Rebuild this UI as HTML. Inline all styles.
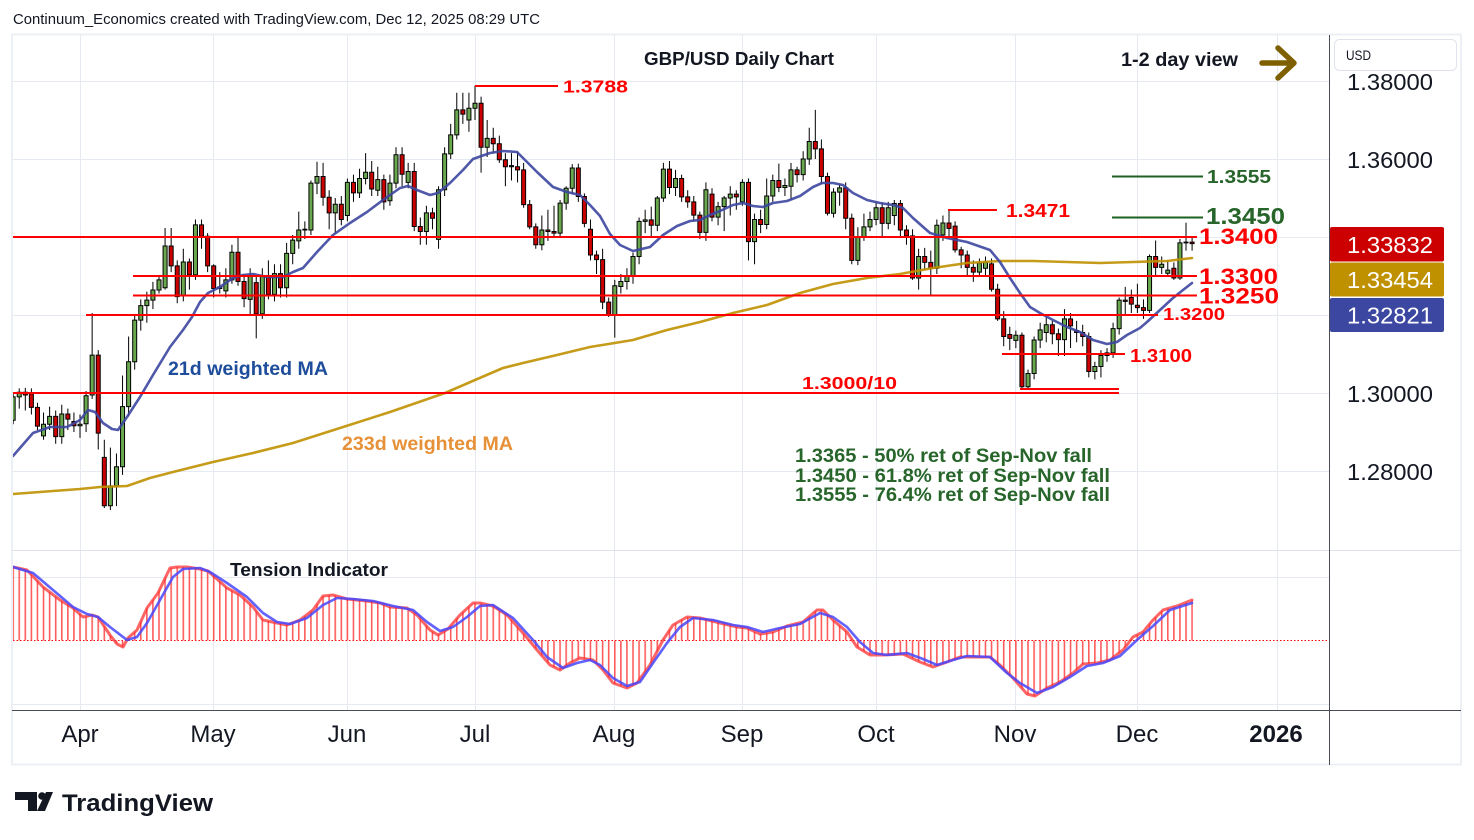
<!DOCTYPE html>
<html><head><meta charset="utf-8">
<style>
html,body{margin:0;padding:0;background:#fff;width:1474px;height:840px;overflow:hidden}
svg{display:block}
text{font-family:"Liberation Sans",Arial,sans-serif}
.b{font-weight:bold}
</style></head>
<body>
<svg width="1474" height="840" viewBox="0 0 1474 840" xmlns="http://www.w3.org/2000/svg">
<defs>
<clipPath id="mp"><rect x="13" y="35" width="1316" height="514"/></clipPath>
<clipPath id="ip"><rect x="13" y="551" width="1316" height="158"/></clipPath>
<pattern id="hp" patternUnits="userSpaceOnUse" x="79.2" y="0" width="6.077" height="840">
<rect x="0" y="0" width="1.6" height="840" fill="#ff4040"/>
</pattern>
</defs>
<rect width="1474" height="840" fill="#fff"/>

<!-- header -->
<text x="13" y="24" font-size="14.5" fill="#131722" textLength="527" lengthAdjust="spacingAndGlyphs">Continuum_Economics created with TradingView.com, Dec 12, 2025 08:29 UTC</text>

<!-- frame -->
<rect x="12" y="34.5" width="1449" height="730" fill="none" stroke="#eceff3" stroke-width="2"/>

<!-- grid -->
<g stroke="#e5e9f0" stroke-width="1">
<line x1="13" y1="81.5" x2="1329" y2="81.5"/>
<line x1="13" y1="159.5" x2="1329" y2="159.5"/>
<line x1="13" y1="237.5" x2="1329" y2="237.5"/>
<line x1="13" y1="315.5" x2="1329" y2="315.5"/>
<line x1="13" y1="393.5" x2="1329" y2="393.5"/>
<line x1="13" y1="471.5" x2="1329" y2="471.5"/>
<line x1="13" y1="577.5" x2="1329" y2="577.5"/>
<line x1="13" y1="704.5" x2="1329" y2="704.5"/>
<line x1="80.5" y1="35" x2="80.5" y2="710"/>
<line x1="213.5" y1="35" x2="213.5" y2="710"/>
<line x1="347.5" y1="35" x2="347.5" y2="710"/>
<line x1="475.5" y1="35" x2="475.5" y2="710"/>
<line x1="614.5" y1="35" x2="614.5" y2="710"/>
<line x1="742.5" y1="35" x2="742.5" y2="710"/>
<line x1="876.5" y1="35" x2="876.5" y2="710"/>
<line x1="1015.5" y1="35" x2="1015.5" y2="710"/>
<line x1="1137.5" y1="35" x2="1137.5" y2="710"/>
<line x1="1277.5" y1="35" x2="1277.5" y2="710"/>
</g>

<!-- pane separator, axes -->
<line x1="12" y1="550.5" x2="1461" y2="550.5" stroke="#dfe2e8" stroke-width="1"/>
<line x1="12" y1="710.5" x2="1461" y2="710.5" stroke="#4a4d57" stroke-width="1"/>
<line x1="1329.5" y1="35" x2="1329.5" y2="765" stroke="#4a4d57" stroke-width="1"/>

<!-- candles (bar index, price*1e4-10000) -->
<g clip-path="url(#mp)">
<g transform="matrix(6.077 0 0 -0.39 80 1563)">
<path fill="none" stroke="#000" stroke-width="1" vector-effect="non-scaling-stroke" d="M-11 2920V3000M-10 2960V3012M-9 2955V3013M-8 2945V3012M-7 2905V2975M-6 2880V2950M-5 2905V2965M-4 2870V2955M-3 2870V2970M-2 2905V2960M-1 2900V2950M0 2885V2945M1 2900V3005M2 2985V3205M3 2855V3110M4 2705V2880M5 2700V2860M6 2710V2845M7 2790V3045M8 2940V3145M9 3060V3200M10 3160V3240M11 3180V3260M12 3215V3285M13 3255V3300M14 3265V3423M15 3310V3423M16 3230V3340M17 3235V3370M18 3265V3345M19 3290V3445M20 3370V3445M21 3310V3410M22 3245V3330M23 3255V3310M24 3245V3320M25 3280V3380M26 3275V3402M27 3220V3305M28 3200V3320M29 3140V3300M30 3190V3320M31 3240V3340M32 3235V3330M33 3245V3330M34 3245V3385M35 3330V3405M36 3370V3465M37 3395V3440M38 3405V3545M39 3510V3593M40 3480V3590M41 3420V3520M42 3410V3500M43 3430V3505M44 3440V3550M45 3490V3560M46 3500V3575M47 3535V3615M48 3505V3595M49 3505V3580M50 3470V3560M51 3480V3560M52 3525V3630M53 3530V3630M54 3525V3590M55 3415V3590M56 3380V3450M57 3380V3480M58 3420V3475M59 3370V3530M60 3505V3630M61 3600V3690M62 3650V3770M63 3690V3770M64 3670V3770M65 3700V3788M66 3565V3760M67 3605V3700M68 3615V3680M69 3590V3660M70 3530V3615M71 3545V3615M72 3540V3620M73 3475V3590M74 3420V3495M75 3370V3435M76 3366V3455M77 3390V3470M78 3400V3480M79 3400V3495M80 3470V3530M81 3510V3587M82 3490V3588M83 3425V3512M84 3340V3445M85 3305V3365M86 3215V3370M87 3195V3245M88 3142V3290M89 3255V3305M90 3265V3320M91 3280V3360M92 3330V3450M93 3410V3470M94 3400V3478M95 3415V3505M96 3490V3590M97 3510V3595M98 3505V3572M99 3490V3560M100 3475V3520M101 3440V3505M102 3395V3465M103 3390V3540M104 3440V3525M105 3430V3490M106 3415V3505M107 3455V3530M108 3470V3520M109 3480V3548M110 3340V3550M111 3330V3460M112 3410V3470M113 3420V3550M114 3490V3560M115 3515V3588M116 3505V3550M117 3495V3590M118 3540V3580M119 3545V3620M120 3585V3680M121 3600V3726M122 3535V3650M123 3455V3565M124 3450V3525M125 3480V3535M126 3420V3540M127 3330V3460M128 3328V3425M129 3390V3460M130 3415V3465M131 3430V3488M132 3400V3488M133 3420V3490M134 3430V3495M135 3400V3495M136 3380V3430M137 3290V3420M138 3265V3370M139 3315V3372M140 3250V3365M141 3305V3445M142 3390V3455M143 3395V3471M144 3360V3440M145 3320V3375M146 3300V3365M147 3285V3340M148 3300V3345M149 3300V3350M150 3260V3345M151 3185V3280M152 3120V3210M153 3110V3170M154 3115V3160M155 3010V3155M156 3008V3060M157 3035V3145M158 3115V3180M159 3130V3195M160 3125V3185M161 3095V3165M162 3095V3215M163 3115V3205M164 3130V3185M165 3120V3175M166 3040V3155M167 3035V3080M168 3040V3110M169 3080V3115M170 3090V3180M171 3150V3245M172 3200V3272M173 3205V3265M174 3205V3280M175 3190V3240M176 3205V3355M177 3300V3391M178 3305V3350M179 3300V3340M180 3290V3335M181 3290V3395M182 3365V3437M183 3365V3400"/>
<path fill="#6aa84f" stroke="#000" stroke-width="1" vector-effect="non-scaling-stroke" d="M-11.33 2930h.66V2990h-.66zM-10.33 2990h.66V3002h-.66zM-6.33 2890h.66V2920h-.66zM-5.33 2920h.66V2940h-.66zM-3.33 2888h.66V2946h-.66zM-.33 2916h.66V2920h-.66zM.67 2921h.66V2993h-.66zM1.67 2995h.66V3097h-.66zM4.67 2711h.66V2762h-.66zM5.67 2762h.66V2811h-.66zM6.67 2811h.66V2965h-.66zM7.67 2965h.66V3080h-.66zM8.67 3080h.66V3187h-.66zM9.67 3187h.66V3224h-.66zM10.67 3224h.66V3238h-.66zM11.67 3238h.66V3264h-.66zM12.67 3264h.66V3290h-.66zM13.67 3270h.66V3377h-.66zM16.67 3251h.66V3336h-.66zM18.67 3303h.66V3431h-.66zM22.67 3268h.66V3272h-.66zM23.67 3262h.66V3290h-.66zM24.67 3290h.66V3361h-.66zM27.67 3240h.66V3300h-.66zM29.67 3203h.66V3300h-.66zM31.67 3253h.66V3306h-.66zM33.67 3270h.66V3358h-.66zM34.67 3358h.66V3392h-.66zM35.67 3390h.66V3418h-.66zM36.67 3418h.66V3420h-.66zM37.67 3418h.66V3538h-.66zM38.67 3538h.66V3555h-.66zM41.67 3462h.66V3484h-.66zM43.67 3455h.66V3540h-.66zM45.67 3513h.66V3550h-.66zM46.67 3550h.66V3566h-.66zM48.67 3520h.66V3547h-.66zM50.67 3493h.66V3538h-.66zM51.67 3538h.66V3611h-.66zM53.67 3540h.66V3568h-.66zM56.67 3414h.66V3462h-.66zM58.67 3394h.66V3521h-.66zM59.67 3521h.66V3613h-.66zM60.67 3613h.66V3662h-.66zM61.67 3662h.66V3726h-.66zM63.67 3700h.66V3730h-.66zM64.67 3730h.66V3743h-.66zM66.67 3630h.66V3653h-.66zM70.67 3580h.66V3583h-.66zM75.67 3380h.66V3418h-.66zM78.67 3410h.66V3487h-.66zM79.67 3487h.66V3525h-.66zM80.67 3525h.66V3577h-.66zM87.67 3200h.66V3275h-.66zM88.67 3273h.66V3286h-.66zM89.67 3286h.66V3299h-.66zM90.67 3299h.66V3350h-.66zM91.67 3350h.66V3440h-.66zM92.67 3440h.66V3444h-.66zM94.67 3430h.66V3500h-.66zM95.67 3500h.66V3574h-.66zM97.67 3527h.66V3550h-.66zM102.67 3412h.66V3521h-.66zM104.67 3451h.66V3478h-.66zM105.67 3478h.66V3500h-.66zM106.67 3500h.66V3510h-.66zM108.67 3490h.66V3540h-.66zM110.67 3388h.66V3445h-.66zM112.67 3432h.66V3505h-.66zM113.67 3505h.66V3545h-.66zM115.67 3527h.66V3532h-.66zM116.67 3530h.66V3572h-.66zM118.67 3560h.66V3600h-.66zM119.67 3600h.66V3645h-.66zM123.67 3461h.66V3515h-.66zM124.67 3515h.66V3526h-.66zM127.67 3340h.66V3400h-.66zM128.67 3400h.66V3426h-.66zM129.67 3426h.66V3445h-.66zM130.67 3445h.66V3475h-.66zM132.67 3435h.66V3475h-.66zM133.67 3455h.66V3486h-.66zM137.67 3295h.66V3350h-.66zM140.67 3320h.66V3430h-.66zM141.67 3405h.66V3436h-.66zM147.67 3310h.66V3333h-.66zM148.67 3320h.66V3335h-.66zM153.67 3135h.66V3148h-.66zM155.67 3016h.66V3050h-.66zM156.67 3050h.66V3136h-.66zM157.67 3136h.66V3162h-.66zM158.67 3155h.66V3175h-.66zM161.67 3137h.66V3190h-.66zM166.67 3055h.66V3068h-.66zM167.67 3068h.66V3096h-.66zM168.67 3096h.66V3103h-.66zM169.67 3103h.66V3165h-.66zM170.67 3165h.66V3238h-.66zM175.67 3212h.66V3350h-.66zM177.67 3322h.66V3330h-.66zM178.67 3307h.66V3315h-.66zM180.67 3295h.66V3385h-.66zM181.67 3385h.66V3387h-.66z"/>
<path fill="#cc0000" stroke="#000" stroke-width="1" vector-effect="non-scaling-stroke" d="M-9.33 3002h.66V2995h-.66zM-8.33 2998h.66V2963h-.66zM-7.33 2963h.66V2915h-.66zM-4.33 2940h.66V2888h-.66zM-2.33 2946h.66V2933h-.66zM-1.33 2927h.66V2916h-.66zM2.67 3097h.66V2897h-.66zM3.67 2835h.66V2711h-.66zM14.67 3377h.66V3326h-.66zM15.67 3326h.66V3247h-.66zM17.67 3336h.66V3303h-.66zM19.67 3431h.66V3402h-.66zM20.67 3402h.66V3326h-.66zM21.67 3326h.66V3268h-.66zM25.67 3361h.66V3286h-.66zM26.67 3286h.66V3242h-.66zM28.67 3283h.66V3203h-.66zM30.67 3300h.66V3253h-.66zM32.67 3306h.66V3270h-.66zM39.67 3555h.66V3502h-.66zM40.67 3502h.66V3462h-.66zM42.67 3484h.66V3445h-.66zM44.67 3540h.66V3513h-.66zM47.67 3566h.66V3523h-.66zM49.67 3547h.66V3490h-.66zM52.67 3611h.66V3561h-.66zM54.67 3568h.66V3427h-.66zM55.67 3427h.66V3414h-.66zM57.67 3462h.66V3448h-.66zM62.67 3726h.66V3715h-.66zM65.67 3743h.66V3630h-.66zM67.67 3653h.66V3639h-.66zM68.67 3639h.66V3598h-.66zM69.67 3598h.66V3580h-.66zM71.67 3580h.66V3572h-.66zM72.67 3572h.66V3483h-.66zM73.67 3483h.66V3426h-.66zM74.67 3426h.66V3380h-.66zM76.67 3418h.66V3414h-.66zM77.67 3414h.66V3410h-.66zM81.67 3577h.66V3504h-.66zM82.67 3504h.66V3435h-.66zM83.67 3420h.66V3354h-.66zM84.67 3354h.66V3342h-.66zM85.67 3342h.66V3233h-.66zM86.67 3233h.66V3200h-.66zM93.67 3444h.66V3430h-.66zM96.67 3574h.66V3527h-.66zM98.67 3550h.66V3503h-.66zM99.67 3503h.66V3490h-.66zM100.67 3490h.66V3456h-.66zM101.67 3456h.66V3412h-.66zM103.67 3510h.66V3451h-.66zM107.67 3510h.66V3503h-.66zM109.67 3540h.66V3388h-.66zM111.67 3445h.66V3432h-.66zM114.67 3545h.66V3527h-.66zM117.67 3572h.66V3560h-.66zM120.67 3645h.66V3626h-.66zM121.67 3626h.66V3555h-.66zM122.67 3555h.66V3461h-.66zM125.67 3526h.66V3448h-.66zM126.67 3448h.66V3340h-.66zM131.67 3475h.66V3435h-.66zM134.67 3486h.66V3418h-.66zM135.67 3418h.66V3403h-.66zM136.67 3403h.66V3295h-.66zM138.67 3350h.66V3335h-.66zM139.67 3335h.66V3320h-.66zM142.67 3436h.66V3422h-.66zM143.67 3428h.66V3367h-.66zM144.67 3367h.66V3354h-.66zM145.67 3354h.66V3322h-.66zM146.67 3322h.66V3310h-.66zM149.67 3331h.66V3266h-.66zM150.67 3266h.66V3190h-.66zM151.67 3190h.66V3145h-.66zM152.67 3150h.66V3140h-.66zM154.67 3148h.66V3016h-.66zM159.67 3175h.66V3152h-.66zM160.67 3152h.66V3137h-.66zM162.67 3190h.66V3172h-.66zM163.67 3160h.66V3155h-.66zM164.67 3155h.66V3145h-.66zM165.67 3145h.66V3055h-.66zM171.67 3238h.66V3235h-.66zM172.67 3245h.66V3228h-.66zM173.67 3225h.66V3219h-.66zM174.67 3219h.66V3212h-.66zM176.67 3350h.66V3322h-.66zM179.67 3320h.66V3295h-.66zM182.67 3387h.66V3383h-.66z"/>
</g>
</g>

<!-- moving averages -->
<g clip-path="url(#mp)" fill="none" stroke-linejoin="round" stroke-linecap="round">
<polyline stroke="#bf9000" stroke-width="2.6" stroke-opacity="0.9" points="13,494 80,489 100,487 127,486 150,478 173,472 213,462 253,453 293,443 340,428 390,412 445,393 475,380 503,368 523,363 557,355 590,347 633,340 667,330 700,322 733,313 767,305 800,293 833,284 867,278 900,274 933,268 967,263 1000,261 1033,261 1067,262 1100,263 1133,262 1167,261 1192,258"/>
<polyline stroke="#3c46a0" stroke-width="2.6" stroke-opacity="0.9" points="13,456 33,433 50,427 67,427 80,420 88,410 95,412 103,423 112,429 118,430 127,417 140,397 153,375 170,347 183,330 192,317 200,302 208,293 220,287 233,278 243,275 253,274 267,277 283,277 293,272 303,268 317,252 333,235 350,223 367,212 383,200 400,188 408,186 417,190 430,195 438,193 450,183 463,170 473,159 490,153 503,151 517,152 523,158 537,172 553,187 567,192 580,195 590,205 600,216 610,234 620,245 633,251 650,247 663,235 677,226 690,221 700,220 710,215 720,211 733,205 743,203 753,206 763,207 773,203 787,201 800,196 813,187 822,183 833,183 843,185 853,193 867,200 880,203 893,205 903,208 913,218 930,233 947,238 967,242 990,250 1000,262 1010,278 1020,293 1030,307 1040,313 1053,320 1067,327 1080,332 1093,340 1107,344 1117,342 1127,335 1140,328 1147,322 1160,310 1173,298 1183,290 1192,283"/>
</g>

<!-- level lines -->
<g stroke="#ff0000" stroke-width="2">
<line x1="13" y1="237" x2="1197" y2="237"/>
<line x1="133" y1="276" x2="1197" y2="276"/>
<line x1="133" y1="295.5" x2="1197" y2="295.5"/>
<line x1="86" y1="315" x2="1158" y2="315"/>
<line x1="1002" y1="354" x2="1125" y2="354"/>
<line x1="13" y1="393" x2="1119" y2="393"/>
<line x1="1020" y1="389" x2="1119" y2="389"/>
<line x1="475" y1="86" x2="558" y2="86"/>
<line x1="948" y1="210" x2="997" y2="210"/>
</g>
<g stroke="#1e5f22" stroke-width="2">
<line x1="1112" y1="176.5" x2="1203" y2="176.5"/>
<line x1="1112" y1="217.5" x2="1203" y2="217.5"/>
</g>

<!-- labels on main pane -->
<text class="b" x="644" y="65" font-size="18" fill="#131722" textLength="190" lengthAdjust="spacingAndGlyphs">GBP/USD Daily Chart</text>
<text class="b" x="1121" y="66" font-size="19" fill="#131722" textLength="117" lengthAdjust="spacingAndGlyphs">1-2 day view</text>
<g stroke="#7f6000" stroke-width="5.5" stroke-linecap="round" stroke-linejoin="round" fill="none">
<line x1="1262" y1="63" x2="1292" y2="63"/>
<polyline points="1278,48 1294,63 1278,78"/>
</g>

<g class="b" fill="#ff0000">
<text x="563" y="92.5" font-size="17.5" textLength="65" lengthAdjust="spacingAndGlyphs">1.3788</text>
<text x="1006" y="217" font-size="18" textLength="64" lengthAdjust="spacingAndGlyphs">1.3471</text>
<text x="1199" y="244" font-size="22" textLength="79" lengthAdjust="spacingAndGlyphs">1.3400</text>
<text x="1199" y="284" font-size="22" textLength="79" lengthAdjust="spacingAndGlyphs">1.3300</text>
<text x="1199" y="303.5" font-size="22" textLength="80" lengthAdjust="spacingAndGlyphs">1.3250</text>
<text x="1163" y="320" font-size="17.5" textLength="62" lengthAdjust="spacingAndGlyphs">1.3200</text>
<text x="1130" y="362" font-size="18" textLength="62" lengthAdjust="spacingAndGlyphs">1.3100</text>
<text x="802" y="389" font-size="17.5" textLength="95" lengthAdjust="spacingAndGlyphs">1.3000/10</text>
</g>
<g class="b" fill="#27652b">
<text x="1207" y="183" font-size="18" textLength="64" lengthAdjust="spacingAndGlyphs">1.3555</text>
<text x="1206" y="224" font-size="23" textLength="79" lengthAdjust="spacingAndGlyphs">1.3450</text>
<text x="795" y="462" font-size="19.5" textLength="297" lengthAdjust="spacingAndGlyphs">1.3365 - 50% ret of Sep-Nov fall</text>
<text x="795" y="482" font-size="19.5" textLength="315" lengthAdjust="spacingAndGlyphs">1.3450 - 61.8% ret of Sep-Nov fall</text>
<text x="795" y="501" font-size="19.5" textLength="315" lengthAdjust="spacingAndGlyphs">1.3555 - 76.4% ret of Sep-Nov fall</text>
</g>
<text class="b" x="168" y="375" font-size="19.5" fill="#1e4d9b" textLength="160" lengthAdjust="spacingAndGlyphs">21d weighted MA</text>
<text class="b" x="342" y="450" font-size="19.5" fill="#e69138" textLength="171" lengthAdjust="spacingAndGlyphs">233d weighted MA</text>

<!-- indicator pane -->
<line x1="13" y1="640.5" x2="1329" y2="640.5" stroke="#ff0000" stroke-width="1" stroke-dasharray="1.5,2"/>
<g clip-path="url(#ip)">
<polygon fill="url(#hp)" fill-opacity="0.85" points="13,567 27,570 43,587 60,600 73,608 83,617 92,615 98,617 110,635 117,644 123,647 128,638 137,630 147,608 158,593 170,568 177,567 187,567 200,569 208,571 227,588 240,595 253,607 263,620 277,623 287,625 300,620 313,610 323,596 333,595 347,599 367,601 380,603 390,607 407,608 417,615 430,630 438,635 448,629 460,615 473,603 480,603 493,606 507,615 523,633 537,650 550,665 560,670 570,663 580,658 593,660 603,670 613,683 627,688 637,683 650,665 663,640 673,625 687,617 700,618 720,623 737,627 747,628 760,634 773,632 787,626 803,622 817,610 823,610 833,620 847,632 857,647 870,655 883,655 903,654 920,662 933,667 947,662 960,657 990,657 1000,665 1013,678 1027,694 1035,696 1047,688 1060,682 1073,673 1083,664 1097,663 1110,660 1123,650 1133,637 1143,632 1153,620 1163,610 1177,606 1193,600 1193,640.5 12,640.5"/>
</g>
<g clip-path="url(#ip)" fill="none" stroke-linejoin="round" stroke-linecap="round">
<polyline stroke="#ff2a2a" stroke-opacity="0.72" stroke-width="3" points="13,567 27,570 43,587 60,600 73,608 83,617 92,615 98,617 110,635 117,644 123,647 128,638 137,630 147,608 158,593 170,568 177,567 187,567 200,569 208,571 227,588 240,595 253,607 263,620 277,623 287,625 300,620 313,610 323,596 333,595 347,599 367,601 380,603 390,607 407,608 417,615 430,630 438,635 448,629 460,615 473,603 480,603 493,606 507,615 523,633 537,650 550,665 560,670 570,663 580,658 593,660 603,670 613,683 627,688 637,683 650,665 663,640 673,625 687,617 700,618 720,623 737,627 747,628 760,634 773,632 787,626 803,622 817,610 823,610 833,620 847,632 857,647 870,655 883,655 903,654 920,662 933,667 947,662 960,657 990,657 1000,665 1013,678 1027,694 1035,696 1047,688 1060,682 1073,673 1083,664 1097,663 1110,660 1123,650 1133,637 1143,632 1153,620 1163,610 1177,606 1192,600"/>
<polyline stroke="#4646ff" stroke-opacity="0.85" stroke-width="2.6" points="13,567 33,573 53,590 73,607 87,614 98,617 110,627 127,640 137,637 147,623 160,600 173,577 183,569 200,568 210,572 227,583 247,597 263,613 277,622 290,624 307,618 323,605 337,598 353,599 373,601 393,606 413,610 427,622 440,631 453,627 467,617 480,606 493,605 513,618 533,640 547,657 563,668 577,663 590,660 600,665 613,678 627,686 640,682 653,663 667,643 680,627 693,618 713,620 733,625 747,627 763,632 780,628 800,624 820,613 833,617 847,627 860,642 873,653 887,655 907,653 923,659 937,665 953,660 967,656 990,657 1007,673 1020,683 1037,693 1053,687 1070,677 1087,666 1103,663 1120,656 1137,640 1153,626 1170,610 1192,603"/>
</g>
<text class="b" x="230" y="576" font-size="18.5" fill="#131722" textLength="158" lengthAdjust="spacingAndGlyphs">Tension Indicator</text>

<!-- price axis -->
<g font-size="23.5" fill="#131722">
<text x="1347" y="90" textLength="86" lengthAdjust="spacingAndGlyphs">1.38000</text>
<text x="1347" y="168" textLength="86" lengthAdjust="spacingAndGlyphs">1.36000</text>
<text x="1347" y="246" textLength="86" lengthAdjust="spacingAndGlyphs">1.34000</text>
<text x="1347" y="324" textLength="86" lengthAdjust="spacingAndGlyphs">1.32000</text>
<text x="1347" y="402" textLength="86" lengthAdjust="spacingAndGlyphs">1.30000</text>
<text x="1347" y="480" textLength="86" lengthAdjust="spacingAndGlyphs">1.28000</text>
</g>
<rect x="1334.5" y="39.5" width="122" height="31" rx="5" fill="#fff" stroke="#e0e3eb" stroke-width="1"/>
<text x="1346" y="60" font-size="14" fill="#131722" textLength="25" lengthAdjust="spacingAndGlyphs">USD</text>

<rect x="1330" y="227" width="114" height="34.5" rx="2" fill="#cc0000"/>
<rect x="1330" y="262.5" width="114" height="34" rx="2" fill="#bf9000"/>
<rect x="1330" y="298" width="114" height="34" rx="2" fill="#3b47a0"/>
<g font-size="23.5" fill="#ffffff">
<text x="1347" y="253" textLength="86" lengthAdjust="spacingAndGlyphs">1.33832</text>
<text x="1347" y="288" textLength="86" lengthAdjust="spacingAndGlyphs">1.33454</text>
<text x="1347" y="323.5" textLength="86" lengthAdjust="spacingAndGlyphs">1.32821</text>
</g>

<!-- time axis -->
<g font-size="24" fill="#131722" text-anchor="middle">
<text x="80" y="742">Apr</text>
<text x="213" y="742">May</text>
<text x="347" y="742">Jun</text>
<text x="475" y="742">Jul</text>
<text x="614" y="742">Aug</text>
<text x="742" y="742">Sep</text>
<text x="876" y="742">Oct</text>
<text x="1015" y="742">Nov</text>
<text x="1137" y="742">Dec</text>
<text x="1276" y="742" font-weight="bold">2026</text>
</g>

<!-- TradingView logo -->
<g fill="#131722">
<rect x="15" y="792" width="22" height="8"/>
<rect x="28" y="792" width="9" height="19"/>
<circle cx="42" cy="796" r="3.8"/>
<polygon points="46,792 53,792 45,811 37,811"/>
</g>
<text class="b" x="62" y="811" font-size="24.5" fill="#131722" textLength="151" lengthAdjust="spacingAndGlyphs">TradingView</text>
</svg>
</body></html>
